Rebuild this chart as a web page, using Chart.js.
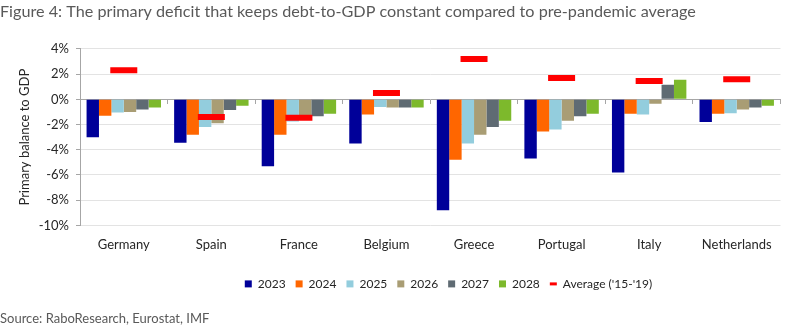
<!DOCTYPE html>
<html>
<head>
<meta charset="utf-8">
<script src="https://cdn.jsdelivr.net/npm/chart.js@4"></script>
<style>
  html, body { margin: 0; padding: 0; background: #ffffff; }
  #wrap { width: 800px; height: 332px; position: relative; }
</style>
</head>
<body>
<div id="wrap"><canvas id="chart"></canvas></div>
<script>
// Primary balance (% of GDP) by country, projections 2023-2028
const countries = ['Germany', 'Spain', 'France', 'Belgium', 'Greece', 'Portugal', 'Italy', 'Netherlands'];
const years = ['2023', '2024', '2025', '2026', '2027', '2028'];

const balance2023 = [-3.0, -3.45, -5.3, -3.5, -8.8, -4.7, -5.8, -1.8];
const balance2024 = [-1.3, -2.8, -2.8, -1.2, -4.8, -2.55, -1.15, -1.15];
const balance2025 = [-1.05, -2.2, -1.75, -0.6, -3.5, -2.4, -1.2, -1.1];
const balance2026 = [-1.0, -1.9, -1.6, -0.65, -2.8, -1.7, -0.35, -0.8];
const balance2027 = [-0.8, -0.85, -1.35, -0.65, -2.2, -1.35, 1.15, -0.65];
const balance2028 = [-0.65, -0.5, -1.15, -0.65, -1.7, -1.15, 1.55, -0.5];

// Debt-stabilising primary balance, average 2015-2019
const averageLabel = "Average ('15-'19)";
const average1519 = [2.3, -1.4, -1.45, 0.5, 3.2, 1.7, 1.45, 1.6];

// Value axis range and step (percent)
const yMin = -10;
const yMax = 4;
const yStep = 2;

const titleText = 'Figure 4: The primary deficit that keeps debt-to-GDP constant compared to pre-pandemic average';
const sourceText = 'Source: RaboResearch, Eurostat, IMF';
const yTitle = 'Primary balance to GDP';

const yearSeries = [balance2023, balance2024, balance2025, balance2026, balance2027, balance2028];
const yearColors = ['#000099', '#ff6600', '#93cddd', '#a99d74', '#5f6b73', '#7db92c'];

const FONT = 'Lato, "Open Sans", sans-serif';
const TEXT = '#595959';
const AXIS = '#a6a6a6';

const datasets = yearSeries.map((values, i) => ({
  type: 'bar',
  label: years[i],
  data: values,
  backgroundColor: yearColors[i],
  borderWidth: 0,
  categoryPercentage: 0.85,
  barPercentage: 1.0,
  order: 2
}));

datasets.push({
  type: 'line',
  label: averageLabel,
  data: average1519,
  showLine: false,
  pointStyle: 'line',
  pointRadius: 13.5,
  pointHoverRadius: 13.5,
  pointBorderWidth: 6,
  pointHoverBorderWidth: 6,
  pointBorderColor: '#ff0000',
  pointBackgroundColor: '#ff0000',
  borderColor: '#ff0000',
  backgroundColor: '#ff0000',
  order: 0
});

// Nudge the legend row to the right so it sits under the plot rather than the page centre
const legendShift = {
  id: 'legendShift',
  afterLayout(chart) {
    const lg = chart.legend;
    if (lg) { lg.left += 50; lg.right += 50; }
  }
};

new Chart(document.getElementById('chart'), {
  data: { labels: countries, datasets },
  plugins: [legendShift],
  options: {
    responsive: true,
    maintainAspectRatio: false,
    animation: false,
    layout: { padding: { left: 0, right: 3, top: 0, bottom: 0 } },
    plugins: {
      tooltip: { enabled: false },
      title: {
        display: true,
        text: titleText,
        align: 'start',
        color: TEXT,
        font: { family: FONT, size: 16.2, weight: 'normal' },
        padding: { top: 2.5, bottom: 27 }
      },
      subtitle: {
        display: true,
        text: sourceText,
        position: 'bottom',
        align: 'start',
        color: TEXT,
        font: { family: FONT, size: 13, weight: 'normal' },
        padding: { top: 11, bottom: 5.5 }
      },
      legend: {
        position: 'bottom',
        labels: {
          usePointStyle: true,
          pointStyleWidth: 7,
          boxHeight: 7,
          boxWidth: 7,
          padding: 10,
          color: '#262626',
          font: { family: FONT, size: 12 },
          sort: (a, b) => a.datasetIndex - b.datasetIndex,
          generateLabels(chart) {
            const items = Chart.defaults.plugins.legend.labels.generateLabels(chart);
            items.forEach(item => {
              const ds = chart.data.datasets[item.datasetIndex];
              if (ds.type === 'line') {
                item.pointStyle = 'line';
                item.lineWidth = 3;
                item.strokeStyle = '#ff0000';
                item.fillStyle = '#ff0000';
              } else {
                item.pointStyle = 'rect';
                item.lineWidth = 0;
                item.strokeStyle = item.fillStyle;
              }
            });
            return items;
          }
        }
      }
    },
    scales: {
      x: {
        type: 'category',
        position: 'bottom',
        offset: true,
        grid: { display: false, drawTicks: false },
        border: { display: false },
        ticks: {
          color: '#262626',
          padding: 12,
          font: { family: FONT, size: 13 },
          maxRotation: 0,
          autoSkip: false
        },
        afterFit(scale) { scale.height = 42.5; }
      },
      xZero: {
        type: 'category',
        position: { y: 0 },
        offset: true,
        grid: {
          display: true,
          offset: true,
          drawOnChartArea: false,
          drawTicks: true,
          tickLength: 4,
          tickColor: AXIS
        },
        border: { display: true, color: AXIS, width: 1 },
        ticks: { display: false }
      },
      y: {
        min: yMin,
        max: yMax,
        grid: {
          color: ctx => (ctx.tick && ctx.tick.value === 0 ? 'rgba(0,0,0,0)' : '#e3e3e3'),
          tickColor: AXIS,
          tickLength: 4,
          drawTicks: true
        },
        border: { display: true, color: AXIS },
        ticks: {
          stepSize: yStep,
          color: '#262626',
          padding: 7,
          font: { family: FONT, size: 13 },
          callback: v => v + '%'
        },
        title: {
          display: true,
          text: yTitle,
          color: '#262626',
          font: { family: FONT, size: 13 },
          padding: { top: 17, bottom: 0 }
        },
        afterFit(scale) { scale.width = 80; }
      }
    }
  }
});
</script>
</body>
</html>
